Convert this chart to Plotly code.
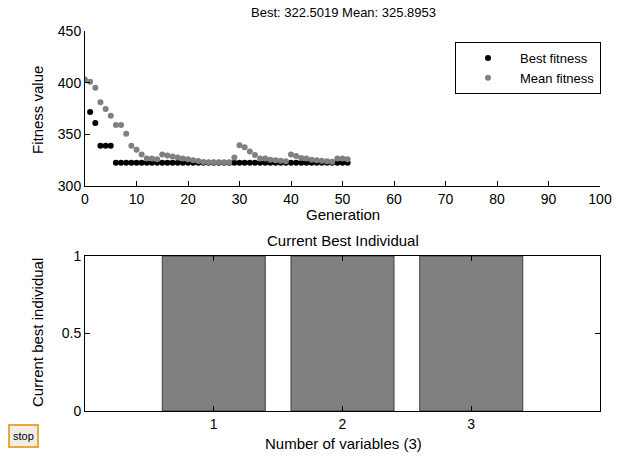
import plotly.graph_objects as go

W, H = 618, 459

generations = list(range(0, 52))
best_fitness = [None, 371.5, 361.0, 339.0, 339.0, 339.0] + [322.5019] * 46
mean_fitness = [403.0, 401.0, 395.0, 381.0, 374.5, 368.0, 359.0, 359.0, 350.5, 339.0,
                335.0, 330.5, 326.5, 326.5, 325.8, 330.5, 329.5, 328.5, 327.5, 326.7,
                325.8, 325.0, 324.2, 323.2, 323.0, 323.0, 323.0, 323.0, 323.0, 327.5,
                339.5, 337.5, 333.5, 330.0, 326.5, 326.5, 325.5, 325.0, 324.5, 324.0,
                330.5, 329.0, 327.0, 326.5, 325.5, 325.0, 324.5, 324.0, 323.5, 326.5,
                326.5, 325.8953]

variables = [1, 2, 3]
best_individual = [1, 1, 1]

FONT = "Arial, Liberation Sans, Helvetica, sans-serif"
FS_TICK = 14
FS_LABEL = 15
FS_TITLE = 13
FS_LEGEND = 13

def px(x):
    return x / W

def py(y):
    return 1 - y / H

fig = go.Figure()
fig.add_trace(go.Scatter(x=generations, y=best_fitness, mode="markers", name="Best fitness",
                         marker=dict(color="black", size=6), xaxis="x", yaxis="y"))
fig.add_trace(go.Scatter(x=generations, y=mean_fitness, mode="markers", name="Mean fitness",
                         marker=dict(color="rgb(128,128,128)", size=6), xaxis="x", yaxis="y"))
fig.add_trace(go.Bar(x=variables, y=best_individual, width=0.8, showlegend=False,
                     marker=dict(color="rgb(128,128,128)", line=dict(color="rgb(60,60,60)", width=1)),
                     xaxis="x2", yaxis="y2"))

axcommon = dict(showgrid=False, zeroline=False, showline=True, linecolor="black", linewidth=1,
                ticks="inside", ticklen=5, tickcolor="black",
                tickfont=dict(family=FONT, size=FS_TICK, color="black"))

fig.update_layout(
    width=W, height=H,
    margin=dict(l=0, r=0, t=0, b=0, autoexpand=False),
    paper_bgcolor="white", plot_bgcolor="white",
    font=dict(family=FONT, size=FS_TICK, color="black"),
    xaxis=dict(domain=[px(85), px(600)], range=[0, 100], tickvals=list(range(0, 101, 10)),
               anchor="y", mirror=False, automargin=False, **axcommon),
    yaxis=dict(domain=[py(186), py(31)], range=[300, 450], tickvals=[300, 350, 400, 450],
               anchor="x", mirror=False, automargin=False, **axcommon),
    xaxis2=dict(domain=[px(85), px(600)], range=[0, 4], tickvals=variables,
                anchor="y2", mirror="ticks", automargin=False, **axcommon),
    yaxis2=dict(domain=[py(411), py(256)], range=[0, 1], tickvals=[0, 0.5, 1],
                ticktext=["0", "0.5", "1"],
                anchor="x2", mirror="ticks", automargin=False, **axcommon),
    legend=dict(x=px(601), xanchor="right", y=py(42), yanchor="top",
                bordercolor="black", borderwidth=1, bgcolor="white",
                font=dict(family=FONT, size=FS_LEGEND, color="black"),
                itemwidth=54, tracegroupgap=0),
    showlegend=True,
)

annotations = [
    dict(text="Best: 322.5019 Mean: 325.8953", x=px(343), y=py(12), size=FS_TITLE),
    dict(text="Generation", x=px(343), y=py(215), size=FS_LABEL),
    dict(text="Fitness value", x=px(37), y=py(110), textangle=-90, size=FS_LABEL),
    dict(text="Current Best Individual", x=px(343), y=py(241), size=FS_LABEL),
    dict(text="Number of variables (3)", x=px(343), y=py(443), size=FS_LABEL),
    dict(text="Current best individual", x=px(37), y=py(333), textangle=-90, size=FS_LABEL),
]
for a in annotations:
    size = a.pop("size")
    fig.add_annotation(xref="paper", yref="paper", showarrow=False, xanchor="center", yanchor="middle",
                       borderpad=0, font=dict(family=FONT, size=size, color="black"), **a)

# stop button
fig.add_shape(type="rect", xref="paper", yref="paper", x0=px(9), x1=px(38), y0=py(447), y1=py(425),
              fillcolor="rgb(240,238,228)", line=dict(color="rgb(230,170,60)", width=2))
fig.add_annotation(xref="paper", yref="paper", showarrow=False, x=px(23.5), y=py(436),
                   xanchor="center", yanchor="middle", borderpad=0,
                   text="stop", font=dict(family=FONT, size=11, color="black"))

fig.write_html("out.html",
               config={"displayModeBar": False},
               post_script="document.body.style.margin='0';document.body.style.overflow='hidden';")
